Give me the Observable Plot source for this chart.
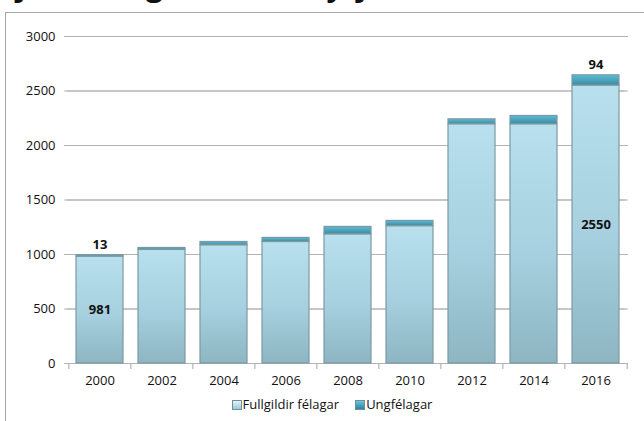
<!DOCTYPE html>
<html>
<head>
<meta charset="utf-8">
<script src="https://cdn.jsdelivr.net/npm/d3@7"></script>
<script src="https://cdn.jsdelivr.net/npm/@observablehq/plot@0.6"></script>
<style>
  html, body { margin: 0; padding: 0; background: #fff; overflow: hidden; }
  body { width: 644px; height: 421px; position: relative; font-family: "Open Sans", "Noto Sans", sans-serif; }
  #title { position: absolute; left: 0; top: -30px; font-size: 30px; font-weight: bold; line-height: 30px; white-space: nowrap; color: #111; }
  #frame { position: absolute; left: 5px; top: 12px; width: 700px; height: 500px; border: 1.5px solid #a6a6a6; box-sizing: border-box; background: #fff; }
  #chart { position: absolute; left: 0; top: 0; }
  #legend { position: absolute; left: 0; top: 395px; width: 664px; text-align: center; font-size: 13px; color: #111; }
  #legend span.item { margin: 0 8px; }
  #legend i { display: inline-block; width: 10px; height: 10px; margin-right: 1px; vertical-align: -1px; border: 1px solid #6d8f9a; box-sizing: border-box; }
</style>
</head>
<body>
<div id="title">Fjöldi félagsmanna í byrjun árs</div>
<div id="frame"></div>
<div id="chart"></div>
<div id="legend"></div>
<script>
const years = ["2000","2002","2004","2006","2008","2010","2012","2014","2016"];
const fullgildir = [981, 1042, 1085, 1115, 1185, 1260, 2195, 2195, 2550];
const ungfelagar = [13, 18, 30, 37, 68, 48, 45, 76, 94];
const seriesNames = ["Fullgildir félagar", "Ungfélagar"];
const yTicks = [0, 500, 1000, 1500, 2000, 2500, 3000];
const labelledYears = ["2000", "2016"];

const rows = [];
years.forEach((y, i) => {
  rows.push({year: y, series: seriesNames[0], value: fullgildir[i]});
  rows.push({year: y, series: seriesNames[1], value: ungfelagar[i]});
});
const midLabels = years.map((y, i) => ({year: y, pos: fullgildir[i] / 2, text: String(fullgildir[i])}))
  .filter(d => labelledYears.includes(d.year));
const topLabels = years.map((y, i) => ({year: y, pos: fullgildir[i] + ungfelagar[i], text: String(ungfelagar[i])}))
  .filter(d => labelledYears.includes(d.year));

const W = 644, H = 390, mL = 67, mR = 16, mT = 36, mB = 27;
const half = (W - mL - mR) / years.length / 2;
const font = "'Open Sans', 'Noto Sans', sans-serif";

const plot = Plot.plot({
  width: W, height: H,
  marginLeft: mL, marginRight: mR, marginTop: mT, marginBottom: mB,
  style: {fontFamily: font, fontSize: "13px", color: "#111", background: "transparent"},
  x: {domain: years, paddingInner: 0.25, paddingOuter: 0.125, label: null, tickSize: 0, tickPadding: 12},
  y: {domain: [0, 3000], ticks: yTicks, tickFormat: d3.format("d"), label: null, tickSize: 0, tickPadding: 12},
  color: {domain: seriesNames, range: ["url(#gFull)", "url(#gUng)"]},
  marks: [
    Plot.gridY(yTicks, {stroke: "#b3b3b3", strokeOpacity: 1, strokeWidth: 1.2}),
    Plot.ruleX([0], {frameAnchor: "left", stroke: "#b3b3b3", strokeWidth: 1.2}),
    Plot.tickY(yTicks, {y: d => d, frameAnchor: "left", dx: -3, stroke: "#b3b3b3", strokeWidth: 1.2}),
    Plot.ruleX(years, {x: d => d, dx: -half, y1: 0, y2: -55, stroke: "#b3b3b3", strokeWidth: 1.2}),
    Plot.ruleX(years.slice(-1), {x: d => d, dx: half, y1: 0, y2: -55, stroke: "#b3b3b3", strokeWidth: 1.2}),
    Plot.barY(rows, {x: "year", y: "value", fill: "series", order: seriesNames, stroke: "#7c99a3", strokeWidth: 1.2}),
    Plot.text(midLabels, {x: "year", y: "pos", text: "text", fontWeight: "bold", fontSize: 13, fill: "#111"}),
    Plot.text(topLabels, {x: "year", y: "pos", text: "text", fontWeight: "bold", fontSize: 13, fill: "#111", dy: -10})
  ]
});

const svg = d3.select(plot);
const defs = svg.insert("defs", ":first-child");
const g1 = defs.append("linearGradient").attr("id", "gFull").attr("x1", 0).attr("y1", 0).attr("x2", 0).attr("y2", 1);
g1.append("stop").attr("offset", "0%").attr("stop-color", "#b8e0ee");
g1.append("stop").attr("offset", "55%").attr("stop-color", "#a6d0df");
g1.append("stop").attr("offset", "100%").attr("stop-color", "#8db5c2");
const g2 = defs.append("linearGradient").attr("id", "gUng").attr("x1", 0).attr("y1", 0).attr("x2", 0).attr("y2", 1);
g2.append("stop").attr("offset", "0%").attr("stop-color", "#5cbcd6");
g2.append("stop").attr("offset", "100%").attr("stop-color", "#3c8ba1");
document.getElementById("chart").appendChild(plot);

const legend = d3.select("#legend");
const swatch = ["linear-gradient(#e3f2f8, #9cc8d6)", "linear-gradient(#6ac6de, #2f8198)"];
seriesNames.forEach((s, i) => {
  const it = legend.append("span").attr("class", "item");
  it.append("i").style("background", swatch[i]);
  it.append("span").text(s);
});
</script>
</body>
</html>
